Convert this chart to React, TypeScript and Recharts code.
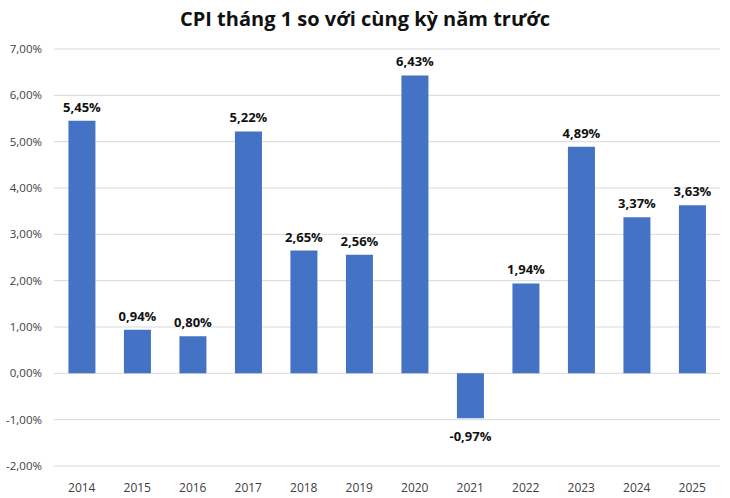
import { BarChart, Bar, XAxis, YAxis, CartesianGrid, LabelList } from 'recharts'

const years = ['2014', '2015', '2016', '2017', '2018', '2019', '2020', '2021', '2022', '2023', '2024', '2025']
const cpiValues = [5.45, 0.94, 0.8, 5.22, 2.65, 2.56, 6.43, -0.97, 1.94, 4.89, 3.37, 3.63]
const yTicks = [-2, -1, 0, 1, 2, 3, 4, 5, 6, 7]

const FONT = '"Open Sans", "DejaVu Sans", sans-serif'
const BAR_COLOR = '#4472C4'

const fmt = (v: number) => v.toFixed(2).replace('.', ',') + '%'

const chartData = years.map((year, i) => ({ year, value: cpiValues[i] }))

// label above positive bars, below negative ones
const ValueLabel = (props: any) => {
  const { x, y, width, height, value } = props
  const cx = x + width / 2
  const top = Math.min(y, y + height)
  const bottom = Math.max(y, y + height)
  const ty = value < 0 ? bottom + 18 : top - 14
  return (
    <text
      x={cx}
      y={ty}
      textAnchor="middle"
      dominantBaseline="central"
      fontFamily={FONT}
      fontWeight={700}
      fontSize={13}
      fill="#111"
    >
      {fmt(value)}
    </text>
  )
}

export default function App() {
  return (
    <div style={{ position: 'absolute', left: 0, top: 0, width: 730, height: 498, background: '#fff' }}>
      <div
        style={{
          position: 'absolute',
          top: 5,
          left: 0,
          width: 730,
          textAlign: 'center',
          fontFamily: FONT,
          fontWeight: 700,
          fontSize: 20,
          color: '#111',
        }}
      >
        CPI tháng 1 so với cùng kỳ năm trước
      </div>
      <BarChart
        width={730}
        height={498}
        data={chartData}
        margin={{ top: 49, right: 10, bottom: 7, left: 0 }}
        barCategoryGap="26%"
      >
        <CartesianGrid vertical={false} stroke="#d9d9d9" />
        <XAxis
          dataKey="year"
          axisLine={false}
          tickLine={false}
          height={25}
          tick={{ fontFamily: FONT, fontSize: 12, fill: '#404040', dy: 9 }}
        />
        <YAxis
          domain={[-2, 7]}
          ticks={yTicks}
          tickFormatter={fmt}
          axisLine={false}
          tickLine={false}
          width={54}
          tick={{ fontFamily: FONT, fontSize: 11.5, fill: '#404040', dx: -4 }}
        />
        <Bar dataKey="value" fill={BAR_COLOR} isAnimationActive={false}>
          <LabelList dataKey="value" content={<ValueLabel />} />
        </Bar>
      </BarChart>
    </div>
  )
}
